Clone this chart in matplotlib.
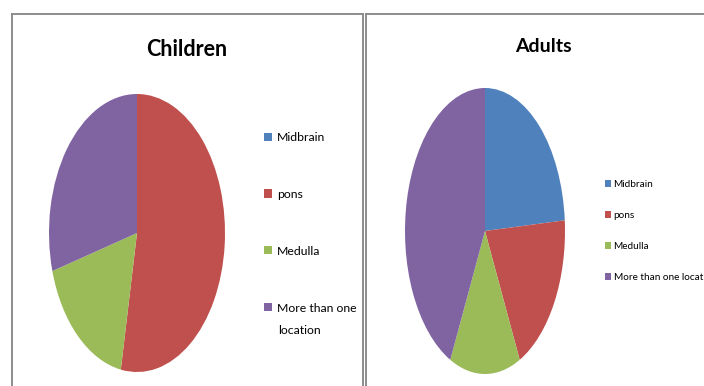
import matplotlib
matplotlib.use("Agg")
import matplotlib.pyplot as plt
from matplotlib.lines import Line2D

# Location of lesions, counts per group
locations = ["Midbrain", "pons", "Medulla", "More than one location"]
children_counts = [0, 9, 3, 5]
adults_counts = [5, 4, 3, 9]
colors = ["#4F81BD", "#C0504D", "#9BBB59", "#8064A2"]

FONT = ["Lato", "DejaVu Sans"]
W, H = 704, 386

fig = plt.figure(figsize=(W / 100, H / 100), dpi=100)


def box(x0, y0, w, h):
    # pixel box (from top-left) -> figure fractions
    return [x0 / W, 1 - (y0 + h) / H, w / W, h / H]


def frame(x0, x1, y0):
    kw = dict(transform=fig.transFigure, color="#8c8c8c", lw=1.4)
    fig.add_artist(Line2D([x0 / W, x0 / W], [0, 1 - y0 / H], **kw))
    fig.add_artist(Line2D([x0 / W, x1 / W], [1 - y0 / H, 1 - y0 / H], **kw))
    if x1 < W:
        fig.add_artist(Line2D([x1 / W, x1 / W], [0, 1 - y0 / H], **kw))


frame(12, 363, 13.5)
frame(366, W + 5, 13.5)


def draw_pie(rect, counts):
    ax = fig.add_axes(rect)
    wedges, _ = ax.pie(counts, colors=colors, startangle=90, counterclock=False,
                       wedgeprops=dict(linewidth=0))
    ax.set_aspect("auto")
    ax.set_xlim(-1, 1)
    ax.set_ylim(-1, 1)
    ax.axis("off")
    return wedges


w_children = draw_pie(box(49, 94, 176, 278), children_counts)
w_adults = draw_pie(box(405, 88, 160, 286), adults_counts)

fig.text(187 / W, 1 - 50 / H, "Children", family=FONT, weight="bold",
         fontsize=15.5, ha="center", va="center")
fig.text(543 / W, 1 - 46 / H, "Adults", family=FONT, weight="bold",
         fontsize=14, ha="center", va="center")

# left legend: last label wraps onto a second line under the text column
left_labels = locations[:3] + ["More than one"]
fig.legend(w_children, left_labels, loc="upper left",
           bbox_to_anchor=(264 / W, 1 - 132 / H), frameon=False,
           prop=dict(family=FONT, size=8.8), handlelength=0.65,
           handleheight=0.65, handletextpad=0.4, labelspacing=3.75,
           borderaxespad=0, borderpad=0)
fig.text(278 / W, 1 - 331 / H, "location", family=FONT, fontsize=8.8,
         ha="left", va="center")

fig.legend(w_adults, locations, loc="upper left",
           bbox_to_anchor=(605 / W, 1 - 180 / H), frameon=False,
           prop=dict(family=FONT, size=7.2), handlelength=0.6,
           handleheight=0.6, handletextpad=0.25, labelspacing=2.2,
           borderaxespad=0, borderpad=0)

fig.savefig("out.png", dpi=100)
